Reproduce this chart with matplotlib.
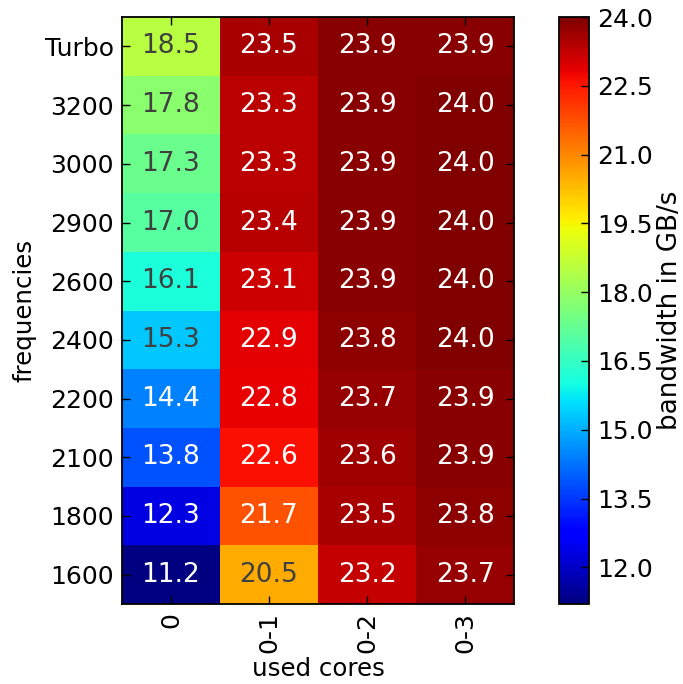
import numpy as np
import matplotlib
matplotlib.use("Agg")
import matplotlib.pyplot as plt

freqs = ["Turbo", "3200", "3000", "2900", "2600", "2400", "2200", "2100", "1800", "1600"]
cores = ["0", "0-1", "0-2", "0-3"]
core0 = [18.5, 17.8, 17.3, 17.0, 16.1, 15.3, 14.4, 13.8, 12.3, 11.2]
core01 = [23.5, 23.3, 23.3, 23.4, 23.1, 22.9, 22.8, 22.6, 21.7, 20.5]
core02 = [23.9, 23.9, 23.9, 23.9, 23.9, 23.8, 23.7, 23.6, 23.5, 23.2]
core03 = [23.9, 24.0, 24.0, 24.0, 24.0, 24.0, 23.9, 23.9, 23.8, 23.7]

data = np.array([core0, core01, core02, core03]).T
vmin, vmax = data.min(), data.max()

plt.rcParams['font.family'] = 'DejaVu Sans'
plt.rcParams['xtick.direction'] = 'in'
plt.rcParams['ytick.direction'] = 'in'

fig = plt.figure(figsize=(6.83, 6.84), dpi=100)
ax = fig.add_axes([0.1786, 0.117, 0.574, 0.858])
cax = fig.add_axes([0.818, 0.117, 0.044, 0.858])

cmap = plt.get_cmap('jet')
mesh = ax.pcolormesh(data, cmap=cmap, vmin=vmin, vmax=vmax)
ax.set_xlim(0, data.shape[1])
ax.set_ylim(data.shape[0], 0)

def lum(c):
    rgb = np.array(c[:3])
    rgb = np.where(rgb <= .03928, rgb / 12.92, ((rgb + .055) / 1.055) ** 2.4)
    return 0.2126 * rgb[0] + 0.7152 * rgb[1] + 0.0722 * rgb[2]

norm = plt.Normalize(vmin, vmax)
for i in range(data.shape[0]):
    for j in range(data.shape[1]):
        v = data[i, j]
        col = "#404040" if lum(cmap(norm(v))) > .408 else "white"
        ax.text(j + 0.5, i + 0.5, "%.1f" % v, ha='center', va='center',
                fontsize=19, color=col)

ax.set_xticks(np.arange(len(cores)) + 0.5)
ax.set_xticklabels(cores, rotation=90, fontsize=18)
ax.set_yticks(np.arange(len(freqs)) + 0.5)
ax.set_yticklabels(freqs, fontsize=18)
ax.tick_params(top=True, right=True, length=5.5, width=1, pad=6)
ax.set_xlabel("used cores", fontsize=17.6, labelpad=3)
ax.set_ylabel("frequencies", fontsize=17.6, labelpad=6)
for s in ax.spines.values():
    s.set_linewidth(1.3)

cb = fig.colorbar(mesh, cax=cax)
cb.set_ticks(np.arange(12.0, 24.01, 1.5))
cb.ax.set_yticklabels(["%.1f" % t for t in np.arange(12.0, 24.01, 1.5)], fontsize=18)
cb.ax.tick_params(direction='in', length=5.5, width=1, pad=6)
cb.outline.set_linewidth(1.3)
cb.set_label("bandwidth in GB/s", fontsize=18.8, labelpad=3)

fig.savefig("out.png", dpi=100, facecolor='white')
